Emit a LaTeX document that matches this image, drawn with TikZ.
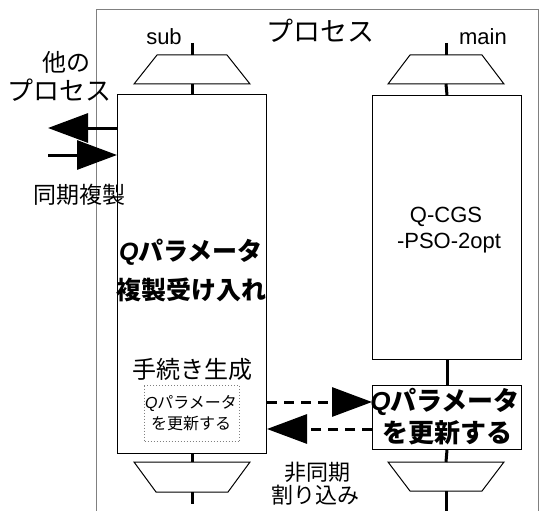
\documentclass[tikz,border=0pt]{standalone}
\usepackage{fontspec}
\setmainfont{Liberation Sans}
\newfontfamily\jp{Noto Sans CJK JP}
\usetikzlibrary{arrows.meta}
\newcommand{\fs}[1]{\fontsize{#1}{#1}\selectfont}
\begin{document}
\begin{tikzpicture}[x=1pt,y=-1pt,
  boxshape/.style={draw,line width=1pt,inner sep=0pt,anchor=north west},
  tickline/.style={line width=3pt},
  trap/.style={draw,line width=1pt},
  txt/.style={inner sep=0pt,anchor=center},
  bigarrow/.style={line width=3pt,-{Triangle[length=40pt,width=29pt]}},
  dasharrow/.style={bigarrow,dash pattern=on 10pt off 7pt}]
\clip (0,0) rectangle (541,511);
\useasboundingbox (0,0) rectangle (541,511);
% outer frame
\node[draw=gray,line width=1pt,inner sep=0pt,anchor=north west,minimum width=442pt,minimum height=520pt] (frame) at (96,9) {};
\node[txt,font=\jp\fs{27}] (title) at (320,31) {プロセス};
% boxes
\node[boxshape,minimum width=149pt,minimum height=359pt] (subbox) at (117,94) {};
\node[boxshape,minimum width=149pt,minimum height=264pt] (mainbox) at (372,95) {};
\node[boxshape,minimum width=149pt,minimum height=64pt] (qbox) at (372,385) {};
\node[draw=gray,dotted,line width=1pt,inner sep=0pt,anchor=north west,minimum width=95pt,minimum height=56pt] (dotbox) at (144,385) {};
% trapezoids
\draw[trap] (157,55) -- (227,55) -- (250,84) -- (134,84) -- cycle;
\draw[trap] (134,462) -- (250,462) -- (228,492) -- (156,492) -- cycle;
\draw[trap] (410,55) -- (482,55) -- (504,84) -- (388,84) -- cycle;
\draw[trap] (388,462) -- (504,462) -- (482,491) -- (410,491) -- cycle;
% ticks
\coordinate (s1) at (192,43); \coordinate (s2) at (192,55);
\coordinate (s3) at (192,84);
\coordinate (s4) at (192,462); \coordinate (s5) at (192,492); \coordinate (s6) at (192,504);
\coordinate (m1) at (446,43); \coordinate (m2) at (446,55);
\coordinate (m3) at (446,84);
\coordinate (m4) at (446,462); \coordinate (m5) at (446,491); \coordinate (m6) at (446,515);
\draw[tickline] (s1) -- (s2);
\draw[tickline] (s3) -- (subbox.north);
\draw[tickline] (subbox.south) -- (s4);
\draw[tickline] (s5) -- (s6);
\draw[tickline] (m1) -- (m2);
\draw[tickline] (m3) -- (mainbox.north);
\draw[tickline] (mainbox.south) -- (qbox.north);
\draw[tickline] (qbox.south) -- (m4);
\draw[tickline] (m5) -- (m6);
% labels
\node[txt,font=\fs{22}] (sublbl) at (164,37) {sub};
\node[txt,font=\fs{22}] (mainlbl) at (483,37) {main};
\node[txt,font=\jp\fs{24}] (other1) at (66,62) {他の};
\node[txt,font=\jp\fs{26}] (other2) at (59,90) {プロセス};
\node[txt,font=\jp\fs{23}] (sync) at (80,195) {同期複製};
% left arrows
\coordinate (la) at (48,128);
\coordinate (lb) at (48,155);
\draw[bigarrow] (subbox.west |- la) -- (la);
\draw[bigarrow] (lb) -- (subbox.west |- lb);
% sub box text
\node[txt,font=\fs{25}] (sq1) at (191,252) {{\bfseries\itshape Q}{\jp\bfseries パラメータ}};
\node[txt,font=\jp\bfseries\fs{25}] (sq2) at (191,290) {複製受け入れ};
\node[txt,font=\jp\fs{24}] (proc) at (192,369) {手続き生成};
\node[txt,font=\fs{16}] (dq1) at (191,403) {{\itshape Q}{\jp パラメータ}};
\node[txt,font=\jp\fs{16}] (dq2) at (191,423) {を更新する};
% main box text
\node[txt,font=\fs{22}] (cgs1) at (446,217) {Q-CGS};
\node[txt,font=\fs{22}] (cgs2) at (449,243) {-PSO-2opt};
\node[txt,font=\fs{26}] (mq1) at (445,402) {{\bfseries\itshape Q}{\jp\bfseries パラメータ}};
\node[txt,font=\jp\bfseries\fs{26}] (mq2) at (447,433) {を更新する};
% dashed arrows
\coordinate (da) at (0,402);
\coordinate (db) at (0,429);
\draw[dasharrow] (subbox.east |- da) -- (qbox.west |- da);
\draw[dasharrow] (qbox.west |- db) -- (subbox.east |- db);
\node[txt,font=\jp\fs{22}] (async1) at (317,472) {非同期};
\node[txt,font=\jp\fs{22}] (async2) at (315,495) {割り込み};
\end{tikzpicture}
\end{document}
